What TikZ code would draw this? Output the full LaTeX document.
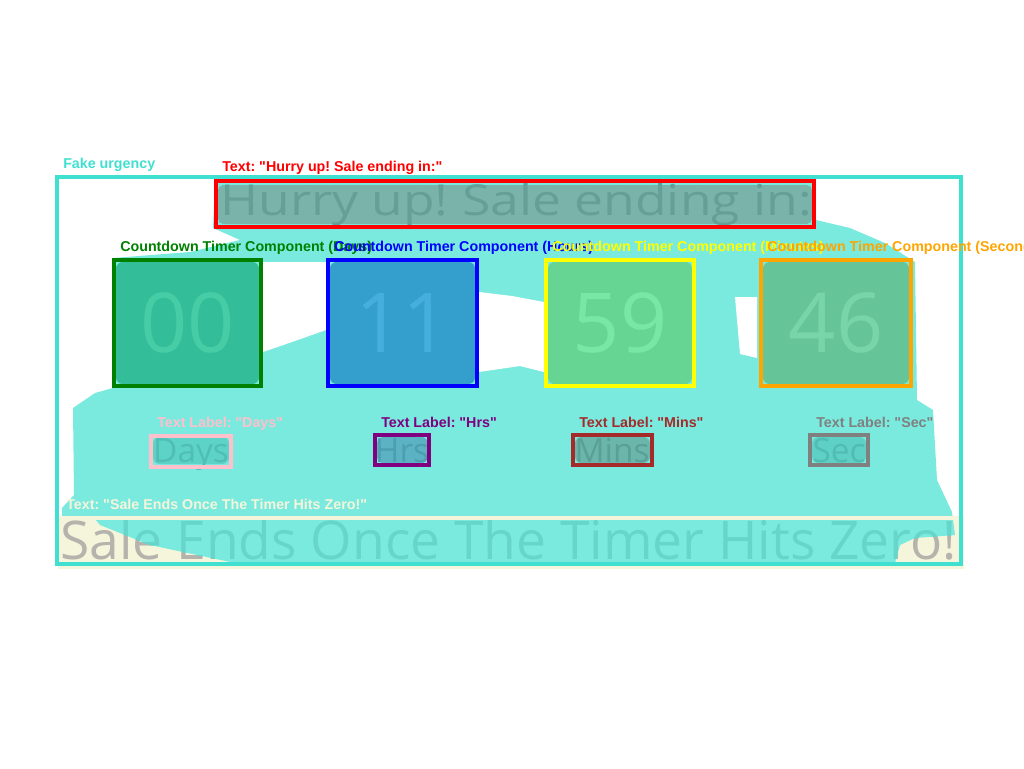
\documentclass[tikz,border=0pt]{standalone}
\usepackage{fontspec}
\setmainfont{Liberation Sans}[Ligatures=TeXOff]
\newfontfamily\shotfont{Open Sans}
\newcommand{\dq}{"}

\definecolor{urgency}{HTML}{40E0D0}
\definecolor{maskfill}{HTML}{7AEADF}
\definecolor{cream}{HTML}{F5F5DC}
\definecolor{hurrybg}{HTML}{7AB3A9}
\definecolor{hurrytxt}{HTML}{64A096}
\definecolor{daystile}{HTML}{33BD99}
\definecolor{daysdig}{HTML}{46CDA6}
\definecolor{hrstile}{HTML}{349ECD}
\definecolor{hrsdig}{HTML}{45AEDD}
\definecolor{minstile}{HTML}{66D493}
\definecolor{minsdig}{HTML}{78E6A5}
\definecolor{sectile}{HTML}{66C499}
\definecolor{secdig}{HTML}{78D4A9}
\definecolor{daysbox}{HTML}{5DD3C8}
\definecolor{daystxt}{HTML}{50BEB4}
\definecolor{hrsbox}{HTML}{5AB2C2}
\definecolor{hrstxt}{HTML}{4C9EB0}
\definecolor{minsbox}{HTML}{6BB6AA}
\definecolor{minstxt}{HTML}{5AA096}
\definecolor{secbox}{HTML}{5ED0C6}
\definecolor{sectxt}{HTML}{50BCB2}
\definecolor{taggreen}{HTML}{008000}
\definecolor{tagyellow}{HTML}{FFFF00}
\definecolor{tagorange}{HTML}{FFA500}
\definecolor{tagpink}{HTML}{FFC0CB}
\definecolor{tagpurple}{HTML}{800080}
\definecolor{tagbrown}{HTML}{A52A2A}
\definecolor{taggray}{HTML}{808080}
\definecolor{endteal}{HTML}{68D5CA}
\definecolor{endgray}{HTML}{B4B4AC}

\begin{document}
\frenchspacing
\begin{tikzpicture}[x=0.75pt, y=-0.75pt,
    tag/.style={font=\fontsize{10.7}{12}\selectfont\bfseries, anchor=base west, inner sep=0pt},
    frame/.style={line width=3pt},
    tile/.style={rounded corners=5pt},
    digit/.style={font=\shotfont\fontsize{62}{70}\selectfont, anchor=base, inner sep=0pt},
    word/.style={font=\shotfont\fontsize{25}{30}\selectfont, anchor=base, inner sep=0pt}]
    \fill [white] (0,0) rectangle (1024,768);
    \useasboundingbox (0,0) rectangle (1024,768);
    % screenshot underneath
    \fill [cream]    (59,519) rectangle (961,565);
    \node [font=\shotfont\fontsize{40}{46}\selectfont, text=endgray, anchor=base west, inner sep=0pt]
          (endText) at (60,559) {Sale Ends Once The Timer Hits Zero!};
    \begin{scope}
      \clip (215,182) -- (813,182) -- (816,220) -- (850,228) -- (885,243) -- (915,262)
            -- (917,400) -- (933,410) -- (937,480) -- (952,512) -- (955,535) -- (915,538)
            -- (900,545) -- (895,563) -- (235,563) -- (150,545) -- (100,525) -- (95,519)
            -- (62,519) -- (62,508) -- (74,495) -- (73,408) -- (95,393) -- (113,388)
            -- (113,258) -- (190,252) -- (240,240) -- (213,228) -- cycle;
      \fill [maskfill] (0,0) rectangle (1024,768);
      \node [font=\shotfont\fontsize{40}{46}\selectfont, text=endteal, anchor=base west, inner sep=0pt]
            (endTextMask) at (60,559) {Sale Ends Once The Timer Hits Zero!};
    \end{scope}
    \fill [white]    (263,262) -- (326,262) -- (326,330) -- (292,342) -- (263,352) -- cycle;
    \fill [white]    (479,292) -- (512,296) -- (544,302) -- (544,372) -- (520,366) -- (479,372) -- cycle;
    \fill [white]    (735,297) -- (757,297) -- (757,358) -- (740,354) -- cycle;
    % Hurry up
    \fill [hurrybg, rounded corners=4pt] (218,185) rectangle (812,224);
    \node [font=\shotfont\fontsize{32}{36}\selectfont, text=hurrytxt, anchor=base west, inner sep=0pt]
          (hurryText) at (220,215) {\scalebox{1.21}[1]{Hurry up! Sale ending in:}};
    % timer tiles
    \fill [tile, daystile] (116,262) rectangle (259,384);
    \node [digit, text=daysdig] (digDays) at (187.5,352) {00};
    \fill [tile, hrstile]  (330,262) rectangle (475,384);
    \node [digit, text=hrsdig]  (digHrs)  at (402.5,352) {11};
    \fill [tile, minstile] (548,262) rectangle (692,384);
    \node [digit, text=minsdig] (digMins) at (620,352) {59};
    \fill [tile, sectile]  (763,262) rectangle (909,384);
    \node [digit, text=secdig]  (digSec)  at (836,352) {46};
    % unit words
    \fill [tile, daysbox] (153,437) rectangle (229,464);
    \node [word, text=daystxt] (wordDays) at (191,462) {Days};
    \fill [tile, hrsbox]  (377,437) rectangle (428,463);
    \node [word, text=hrstxt]  (wordHrs)  at (402,462) {Hrs};
    \fill [tile, minsbox] (575,437) rectangle (650,463);
    \node [word, text=minstxt] (wordMins) at (612,462) {Mins};
    \fill [tile, secbox]  (812,437) rectangle (866,463);
    \node [word, text=sectxt]  (wordSec)  at (839,462) {Sec};
    % annotations
    \draw [frame, cream]     (60,518) rectangle (962,567);
    \node [tag, text=cream]  (tagEnd) at (66,509) {Text: \dq Sale Ends Once The Timer Hits Zero!\dq};
    \draw [frame, urgency]   (57,177) rectangle (961,564);
    \node [tag, text=urgency] (tagUrgency) at (63,168) {Fake urgency};
    \draw [frame, red]       (216,181) rectangle (814,227);
    \node [tag, text=red]    (tagHurry) at (222,171) {Text: \dq Hurry up! Sale ending in:\dq};
    \draw [frame, taggreen]  (114,260) rectangle (261,386);
    \node [tag, text=taggreen]  (tagDays) at (120,251) {Countdown Timer Component (Days)};
    \draw [frame, blue]      (328,260) rectangle (477,386);
    \node [tag, text=blue]      (tagHrs)  at (334,251) {Countdown Timer Component (Hours)};
    \draw [frame, tagyellow] (546,260) rectangle (694,386);
    \node [tag, text=tagyellow] (tagMins) at (552,251) {Countdown Timer Component (Minutes)};
    \draw [frame, tagorange] (761,260) rectangle (911,386);
    \node [tag, text=tagorange] (tagSec)  at (767,251) {Countdown Timer Component (Seconds)};
    \draw [frame, tagpink]   (151,436) rectangle (231,467);
    \node [tag, text=tagpink]   (tagWordDays) at (157,427) {Text Label: \dq Days\dq};
    \draw [frame, tagpurple] (375,435) rectangle (429,465);
    \node [tag, text=tagpurple] (tagWordHrs)  at (381,427) {Text Label: \dq Hrs\dq};
    \draw [frame, tagbrown]  (573,435) rectangle (652,465);
    \node [tag, text=tagbrown]  (tagWordMins) at (579,427) {Text Label: \dq Mins\dq};
    \draw [frame, taggray]   (810,435) rectangle (868,465);
    \node [tag, text=taggray]   (tagWordSec)  at (816,427) {Text Label: \dq Sec\dq};
  \end{tikzpicture}
\end{document}
